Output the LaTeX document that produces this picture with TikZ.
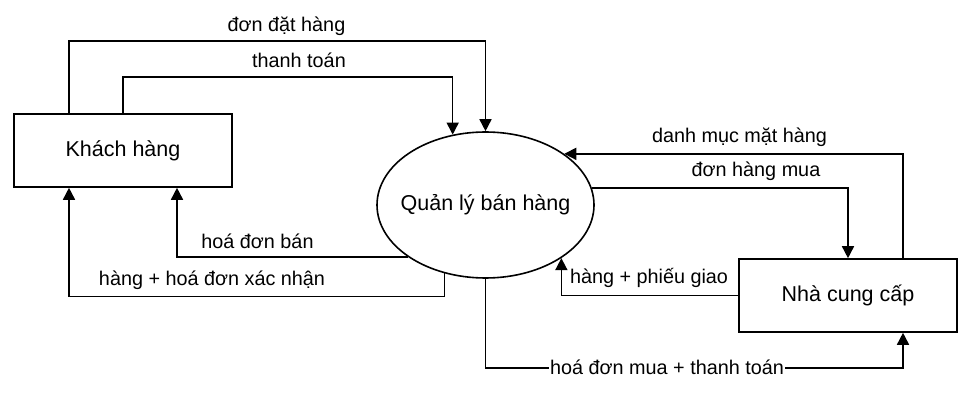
\documentclass[tikz,border=0pt]{standalone}
\usepackage{fontspec}
\setmainfont{Liberation Sans}
\usetikzlibrary{shapes.geometric,arrows.meta}
\begin{document}
\begin{tikzpicture}[x=1pt,y=1pt,
  entity/.style={draw,line width=1.6pt,rectangle,minimum width=218pt,minimum height=73pt,inner sep=0pt,font=\fontsize{21.5}{26}\selectfont},
  proc/.style={draw,line width=1.6pt,ellipse,minimum width=217pt,minimum height=146pt,inner ysep=0pt,inner xsep=-12pt,font=\fontsize{21.5}{26}\selectfont},
  arr/.style={line width=1.6pt,-{Triangle[length=12pt,width=12pt]}},
  lbl/.style={anchor=base,inner sep=1pt,font=\fontsize{19.8}{24}\selectfont}]
\useasboundingbox (0,0) rectangle (969,402);
\fill[white] (0,0) rectangle (969,402);
\node[entity] (kh) at (123,251.5) {Khách hàng};
\node[proc] (ell) at (485.5,197) {Quản lý bán hàng};
\node[entity] (ncc) at (848,106.5) {Nhà cung cấp};
% Khach hang -> Quan ly
\draw[arr] ([xshift=-54pt]kh.north) -- ++(0,72) -| (ell.north);
\draw[arr] (kh.north) -- ++(0,36) -| (ell.115.8);
% Quan ly -> Khach hang
\draw[arr] (ell.214.2) -| ([xshift=54pt]kh.south);
\draw[arr] (ell.239.1) -- ++(0,-23.3) -| ([xshift=-54pt]kh.south);
% Nha cung cap <-> Quan ly
\draw[arr] ([xshift=55pt]ncc.north) |- (ell.33.3);
\draw[arr] (ell.9.7) -| (ncc.north);
\draw[arr] (ncc.west) -| (ell.325.8);
\draw[arr] (ell.south) -- ++(0,-89) -| ([xshift=55pt]ncc.south);
% labels
\node[lbl] (l1) at (286.5,370) {đơn đặt hàng};
\node[lbl] (l2) at (299,334) {thanh toán};
\node[lbl] (l3) at (257.5,153.7) {hoá đơn bán};
\node[lbl] (l4) at (212,117) {hàng + hoá đơn xác nhận};
\node[lbl] (l5) at (739.5,259.3) {danh mục mặt hàng};
\node[lbl] (l6) at (756,225.3) {đơn hàng mua};
\node[lbl] (l7) at (649,118) {hàng + phiếu giao};
\node[lbl,fill=white] (l8) at (667,28) {hoá đơn mua + thanh toán};
\end{tikzpicture}
\end{document}
